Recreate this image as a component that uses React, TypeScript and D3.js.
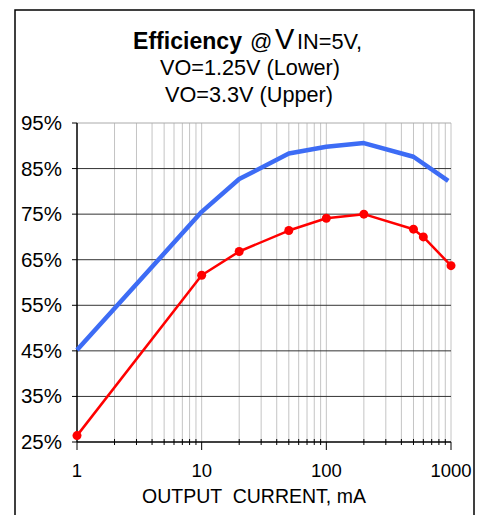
import React from 'react'
import * as d3 from 'd3'

// output current (mA) and efficiency (%)
const upperCurrent = [1, 10, 20, 50, 100, 200, 500, 950]
const upperEff = [45.2, 75.5, 82.7, 88.3, 89.8, 90.6, 87.6, 82.3]
const lowerCurrent = [1, 10, 20, 50, 100, 200, 500, 600, 1000]
const lowerEff = [26.4, 61.6, 66.8, 71.4, 74.1, 75.0, 71.7, 70.0, 63.7]
const yTicks = [25, 35, 45, 55, 65, 75, 85, 95]
const xLabels = [1, 10, 100, 1000]

const font = '"Liberation Sans", Arial, sans-serif'

export default function App() {
  const left = 77, right = 451, top = 123, bottom = 442
  const x = d3.scaleLog().domain([1, 1000]).range([left, right])
  const y = d3.scaleLinear().domain([25, 95]).range([bottom, top])

  const line = d3.line<[number, number]>().x(d => x(d[0])).y(d => y(d[1]))
  const upper = upperCurrent.map((c, i) => [c, upperEff[i]] as [number, number])
  const lower = lowerCurrent.map((c, i) => [c, lowerEff[i]] as [number, number])

  const minor = x.ticks()

  return (
    <svg width={477} height={515} style={{ position: 'absolute', left: 0, top: 0 }} fontFamily={font}>
      <rect x={15} y={10} width={459} height={520} fill="white" stroke="black" strokeWidth={1.5} />

      {/* title */}
      <text y={49} fill="black">
        <tspan x={133} fontWeight="bold" fontSize={23.5} textLength={109} lengthAdjust="spacingAndGlyphs">Efficiency</tspan>
        <tspan x={250} fontSize={22}>@</tspan>
        <tspan x={275} fontSize={29}>V</tspan>
        <tspan x={297} fontSize={22} textLength={65} lengthAdjust="spacingAndGlyphs">IN=5V,</tspan>
      </text>
      <text x={250} y={74.5} textAnchor="middle" fontSize={21.5} textLength={180} lengthAdjust="spacingAndGlyphs">VO=1.25V (Lower)</text>
      <text x={249} y={101.5} textAnchor="middle" fontSize={21.5} textLength={168} lengthAdjust="spacingAndGlyphs">VO=3.3V (Upper)</text>

      {/* vertical grid */}
      {minor.filter(t => t > 1).map(t => (
        <line key={'v' + t} x1={x(t)} x2={x(t)} y1={top} y2={bottom} stroke="#c4c4c4" strokeWidth={1} />
      ))}
      {/* horizontal grid */}
      {yTicks.filter(t => t > 25 && t < 95).map(t => (
        <line key={'h' + t} x1={left} x2={right} y1={y(t)} y2={y(t)} stroke="#333" strokeWidth={1} />
      ))}
      <line x1={left} x2={right} y1={top} y2={top} stroke="#aaa" strokeWidth={1} />

      {/* axes */}
      <line x1={left} x2={left} y1={top} y2={bottom} stroke="black" strokeWidth={1.5} />
      <line x1={left} x2={right} y1={bottom} y2={bottom} stroke="black" strokeWidth={1.5} />
      {yTicks.map(t => (
        <g key={'yt' + t}>
          <line x1={left - 5} x2={left} y1={y(t)} y2={y(t)} stroke="black" />
          <text x={62} y={y(t) + 7} textAnchor="end" fontSize={20.5}>{t}%</text>
        </g>
      ))}
      {minor.map(t => {
        const major = xLabels.includes(t)
        return (
          <line key={'xt' + t} x1={x(t)} x2={x(t)} y1={major ? bottom : bottom - 3} y2={major ? bottom + 8 : bottom + 3} stroke="black" />
        )
      })}
      {xLabels.map(t => (
        <text key={'xl' + t} x={x(t)} y={477} textAnchor="middle" fontSize={18.5}>{t}</text>
      ))}
      <text x={254} y={503} textAnchor="middle" fontSize={19.5} style={{ whiteSpace: 'pre' }}>OUTPUT  CURRENT, mA</text>

      {/* series */}
      <path d={line(upper) ?? ''} fill="none" stroke="#3d6cf5" strokeWidth={4.5} strokeLinejoin="round" />
      <path d={line(lower) ?? ''} fill="none" stroke="#ff0000" strokeWidth={2.5} strokeLinejoin="round" />
      {lower.map((d, i) => (
        <circle key={'p' + i} cx={x(d[0])} cy={y(d[1])} r={4.5} fill="#ff0000" />
      ))}
    </svg>
  )
}
